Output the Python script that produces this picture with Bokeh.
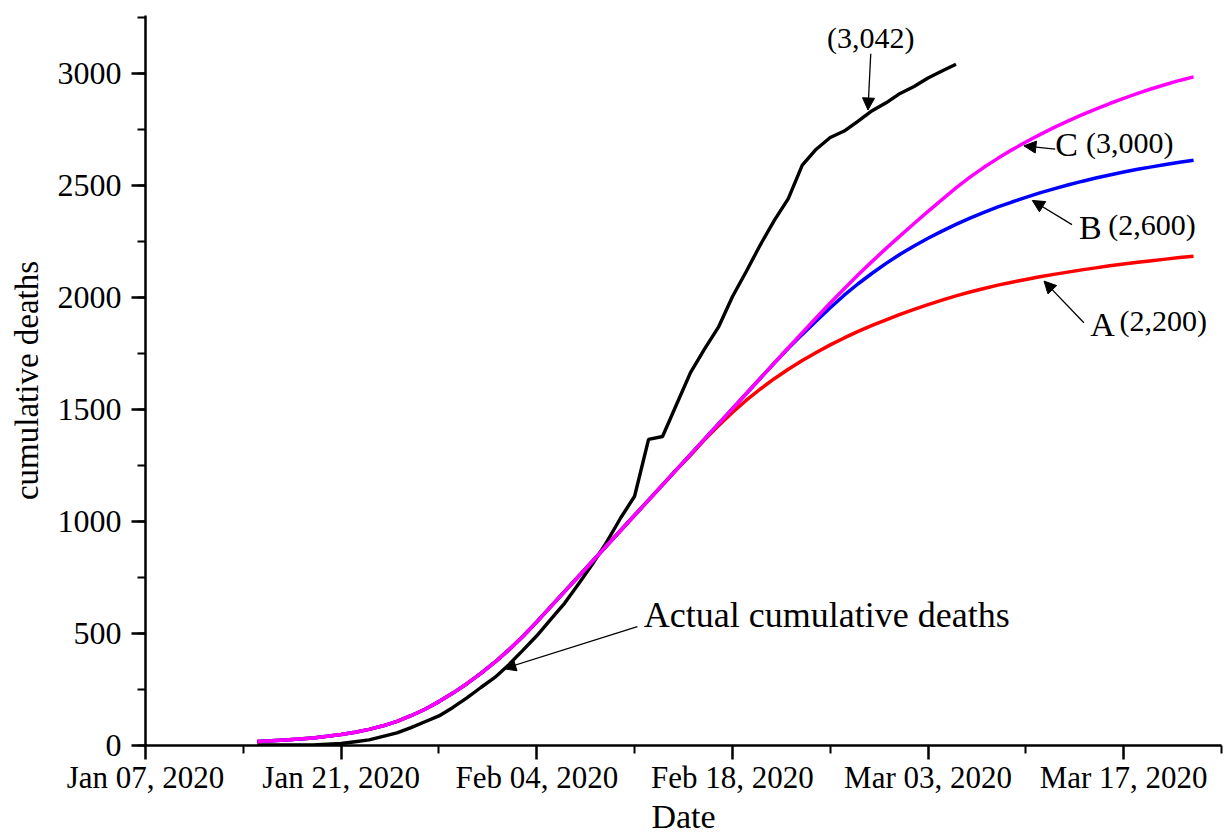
import pandas as pd
from bokeh.plotting import figure
from bokeh.models import (Range1d, FixedTicker, DatetimeTickFormatter, SingleIntervalTicker,
                          Arrow, NormalHead, Label, ColumnDataSource)
from bokeh.embed import file_html
from bokeh.resources import INLINE

# ---------------- data ----------------
model_dates = pd.date_range("2020-01-15", periods=68, freq="D")   # Jan 15 .. Mar 22
actual_dates = pd.date_range("2020-01-15", periods=51, freq="D")  # Jan 15 .. Mar 05

actual_deaths = [2, 2, 2, 3, 3, 6, 9, 17, 25, 41, 56, 80, 106, 132, 170, 213, 259,
                 304, 361, 425, 490, 563, 636, 722, 811, 908, 1016, 1113, 1367, 1380,
                 1523, 1665, 1770, 1868, 2004, 2118, 2236, 2345, 2442, 2592, 2663, 2715,
                 2744, 2788, 2835, 2870,
                 2912, 2943, 2981, 3012, 3042]

model_A = [18, 21, 25, 29, 34, 41, 49, 59, 72, 88,
           108, 133, 162, 196, 234, 276, 322, 372, 427, 487,
           552, 620, 688, 756, 824, 892, 960, 1028, 1096, 1164,
           1232, 1296, 1365, 1428, 1487, 1542, 1592, 1638, 1680, 1719,
           1755, 1789, 1820, 1849, 1876, 1901, 1925, 1948, 1969, 1989,
           2008, 2025, 2041, 2056, 2069, 2081, 2093, 2104, 2114, 2124,
           2133, 2142, 2150, 2158, 2165, 2172, 2179, 2185]

model_B = [18, 21, 25, 29, 34, 41, 49, 59, 72, 88,
           108, 133, 162, 196, 234, 276, 322, 372, 427, 487,
           552, 620, 688, 756, 824, 892, 960, 1028, 1096, 1164,
           1232, 1300, 1368, 1436, 1504, 1572, 1640, 1708, 1774, 1836,
           1896, 1955, 2011, 2062, 2109, 2153, 2194, 2231, 2265, 2297,
           2327, 2355, 2381, 2405, 2427, 2448, 2468, 2486, 2503, 2519,
           2534, 2548, 2561, 2573, 2584, 2595, 2605, 2614]

model_C = [18, 21, 25, 29, 34, 41, 49, 59, 72, 88,
           108, 133, 162, 196, 234, 276, 322, 372, 427, 487,
           552, 620, 688, 756, 824, 892, 960, 1028, 1096, 1164,
           1232, 1300, 1368, 1436, 1504, 1572, 1640, 1708, 1776, 1843,
           1910, 1976, 2040, 2102, 2162, 2220, 2276, 2331, 2385, 2438,
           2490, 2538, 2582, 2622, 2660, 2695, 2728, 2759, 2788, 2816,
           2842, 2867, 2890, 2912, 2933, 2952, 2970, 2986]

tick_dates = ["2020-01-07", "2020-01-21", "2020-02-04", "2020-02-18", "2020-03-03", "2020-03-17"]
minor_tick_dates = ["2020-01-14", "2020-01-28", "2020-02-11", "2020-02-25", "2020-03-10", "2020-03-24"]
x_start, x_end = "2020-01-07", "2020-03-24"

# annotation anchors: (days after Jan 07, value)
ann_texts = ["(3,042)", "C", "(3,000)", "B", "(2,600)", "A", "(2,200)", "Actual cumulative deaths"]
ann_pos = [(51.9, 3161), (65.1, 2683), (67.3, 2692), (66.8, 2314), (68.9, 2325),
           (67.6, 1881), (69.7, 1897), (35.66, 585)]
ann_size = ["30px", "34px", "30px", "34px", "30px", "34px", "30px", "36px"]
ann_align = ["center", "left", "left", "left", "left", "left", "left", "left"]
arrows = [((51.9, 3089), (51.7, 2838)),
          ((65.1, 2663), (62.86, 2678)),
          ((66.3, 2326), (63.46, 2434)),
          ((67.15, 1888), (64.3, 2074)),
          ((35.2, 531), (25.64, 343))]

EPOCH = pd.Timestamp("1970-01-01")
def ms(d):
    return (pd.Timestamp(d) - EPOCH) / pd.Timedelta(milliseconds=1)

def day_ms(d):
    return ms(pd.Timestamp(x_start) + pd.Timedelta(days=d))

FONT = "Liberation Serif"

model_src = ColumnDataSource(dict(date=model_dates, A=model_A, B=model_B, C=model_C))
actual_src = ColumnDataSource(dict(date=actual_dates, deaths=actual_deaths))

p = figure(width=1224, height=837, x_axis_type="datetime", output_backend="svg",
           toolbar_location=None,
           x_range=Range1d(ms(x_start), ms(x_end)), y_range=Range1d(0, 3260),
           min_border_left=145, min_border_right=3, min_border_top=15, min_border_bottom=91)
p.grid.visible = False
p.outline_line_color = None
p.background_fill_color = "white"
p.border_fill_color = "white"

p.line("date", "deaths", source=actual_src, line_color="black", line_width=3.4)
p.line("date", "A", source=model_src, line_color="#ff0000", line_width=3.5)
p.line("date", "B", source=model_src, line_color="#0000ff", line_width=3.5)
p.line("date", "C", source=model_src, line_color="#ff00ff", line_width=3.5)

xa = p.xaxis[0]
ya = p.yaxis[0]
xa.ticker = FixedTicker(ticks=[ms(d) for d in tick_dates], minor_ticks=[ms(d) for d in minor_tick_dates])
fmt = "%b %d, %Y"
xa.formatter = DatetimeTickFormatter(milliseconds=fmt, seconds=fmt, minsec=fmt, minutes=fmt,
                                     hourmin=fmt, hours=fmt, days=fmt, months=fmt, years=fmt)
ya.ticker = SingleIntervalTicker(interval=500, num_minor_ticks=2)
xa.axis_label = "Date"
ya.axis_label = "cumulative deaths"

for ax in (xa, ya):
    ax.axis_line_width = 2.5
    ax.axis_line_color = "black"
    ax.major_tick_line_width = 2.5
    ax.minor_tick_line_width = 2
    ax.major_tick_line_color = "black"
    ax.minor_tick_line_color = "black"
    ax.major_tick_in = 0
    ax.major_tick_out = 14
    ax.minor_tick_in = 0
    ax.minor_tick_out = 8
    ax.major_label_text_font = FONT
    ax.major_label_text_color = "black"
    ax.axis_label_text_font = FONT
    ax.axis_label_text_font_style = "normal"
    ax.axis_label_text_color = "black"

xa.major_label_text_font_size = "31px"
ya.major_label_text_font_size = "32px"
xa.axis_label_text_font_size = "34px"
ya.axis_label_text_font_size = "33px"
xa.major_label_standoff = 0
xa.axis_label_standoff = 0
ya.major_label_standoff = 10
ya.axis_label_standoff = 10

for (s, e) in arrows:
    p.add_layout(Arrow(end=NormalHead(size=12, fill_color="black", line_color="black", line_width=1),
                       x_start=day_ms(s[0]), y_start=s[1], x_end=day_ms(e[0]), y_end=e[1],
                       line_color="black", line_width=1.3))

for t, (d, v), sz, al in zip(ann_texts, ann_pos, ann_size, ann_align):
    p.add_layout(Label(x=day_ms(d), y=v, text=t, text_font=FONT, text_font_size=sz,
                       text_align=al, text_baseline="middle", text_color="black"))

open("out.html", "w").write(file_html(p, INLINE))
